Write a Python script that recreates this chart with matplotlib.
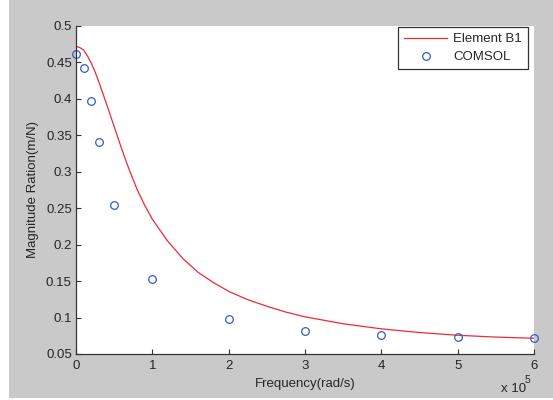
import matplotlib
matplotlib.use("Agg")
import matplotlib.pyplot as plt
from matplotlib.patches import Rectangle

plt.rcParams['font.family'] = ['Liberation Sans', 'DejaVu Sans']

# Analytical model (Element B1): frequency in rad/s and magnitude ratio in m/N
model_freq = [0, 5e3, 1e4, 1.5e4, 2e4, 2.5e4, 3e4, 4e4, 5e4, 6e4, 7e4,
              8e4, 9e4, 1e5, 1.2e5, 1.4e5, 1.6e5, 1.8e5, 2e5, 2.25e5,
              2.5e5, 2.75e5, 3e5, 3.5e5, 4e5, 4.5e5, 5e5, 5.5e5, 6e5]
model_mag = [0.472, 0.4705, 0.467, 0.459, 0.449, 0.437, 0.423, 0.393,
             0.362, 0.331, 0.302, 0.276, 0.254, 0.235, 0.205, 0.181,
             0.162, 0.148, 0.136, 0.1245, 0.1155, 0.1075, 0.101, 0.0915,
             0.0845, 0.0795, 0.0757, 0.0732, 0.0716]

# COMSOL simulation results
comsol_freq = [0, 1e4, 2e4, 3e4, 5e4, 1e5, 2e5, 3e5, 4e5, 5e5, 6e5]
comsol_mag = [0.461, 0.443, 0.397, 0.341, 0.254, 0.153, 0.098,
              0.082, 0.076, 0.0735, 0.072]

x_ticks = [0, 1e5, 2e5, 3e5, 4e5, 5e5, 6e5]
x_ticklabels = ['0', '1', '2', '3', '4', '5', '6']
y_ticks = [0.05, 0.1, 0.15, 0.2, 0.25, 0.3, 0.35, 0.4, 0.45, 0.5]
y_ticklabels = ['0.05', '0.1', '0.15', '0.2', '0.25', '0.3', '0.35',
                '0.4', '0.45', '0.5']

W, H = 553, 400
fig = plt.figure(figsize=(W / 100, H / 100), dpi=100, facecolor='white')
fig.patches.append(Rectangle((9 / W, 2 / H), 1 - 9 / W, 1 - 2 / H,
                             transform=fig.transFigure, facecolor='#c9c9c9',
                             edgecolor='none', zorder=-10))

ax = fig.add_axes([76 / W, 1 - 354 / H, (534 - 76) / W, (354 - 26) / H])
ax.set_facecolor('white')

fs = 9.5
text_col = '#262626'

ax.plot(model_freq, model_mag, color='#ee2a35', lw=0.9, label='Element B1')
ax.plot(comsol_freq, comsol_mag, linestyle='none', marker='o', ms=5.5,
        mfc='none', mec='#3a5ac6', mew=0.9, label='COMSOL', clip_on=False)

ax.set_xlim(0, 6e5)
ax.set_ylim(0.05, 0.5)
ax.set_xticks(x_ticks)
ax.set_xticklabels(x_ticklabels)
ax.set_yticks(y_ticks)
ax.set_yticklabels(y_ticklabels)

for side in ('top', 'right'):
    ax.spines[side].set_visible(False)
for side in ('left', 'bottom'):
    ax.spines[side].set_color('#333333')
    ax.spines[side].set_linewidth(0.9)

ax.tick_params(direction='in', length=3.5, width=0.8, color='#333333',
               labelsize=fs, labelcolor=text_col)
ax.tick_params(axis='x', pad=4)
ax.tick_params(axis='y', pad=3)

ax.set_xlabel('Frequency(rad/s)', fontsize=fs, color=text_col, labelpad=5)
ax.set_ylabel('Magnitude Ration(m/N)', fontsize=fs, color=text_col, labelpad=5)

# Exponent note for the frequency axis
fig.text(501 / W, 1 - 389 / H, 'x 10', fontsize=fs, color=text_col,
         ha='left', va='center')
fig.text(525 / W, 1 - 380 / H, '5', fontsize=7.5, color=text_col,
         ha='left', va='center')

leg = ax.legend(loc='upper right', bbox_to_anchor=(528 / W, 1 - 27 / H),
                bbox_transform=fig.transFigure, borderaxespad=0,
                fontsize=fs, numpoints=1, handlelength=3.3,
                handletextpad=0.45, labelspacing=0.45, borderpad=0.45,
                fancybox=False, framealpha=1, edgecolor='#333333')
leg.get_frame().set_linewidth(0.9)
for t in leg.get_texts():
    t.set_color(text_col)

fig.savefig('out.png', dpi=100, facecolor=fig.get_facecolor())
